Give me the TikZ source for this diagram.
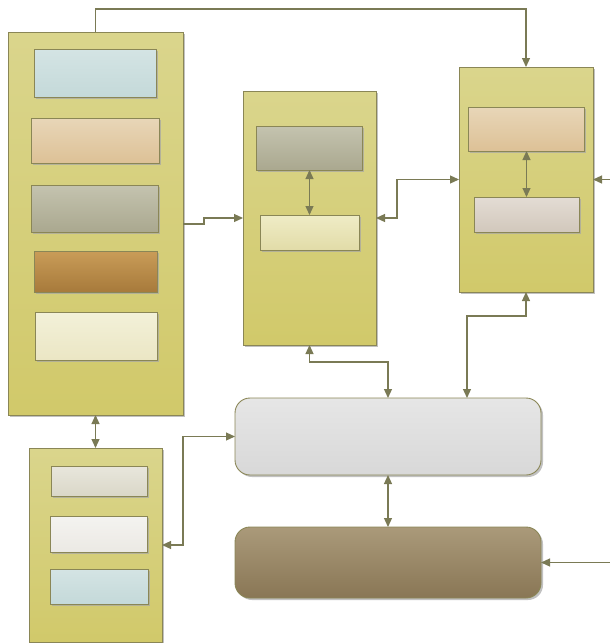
\documentclass[tikz,border=0pt]{standalone}
\usetikzlibrary{arrows.meta,shadows}
\definecolor{lineC}{HTML}{7A7A55}
\definecolor{edgeC}{HTML}{8A8656}
\tikzset{
  conn/.style={draw=lineC, line width=1.2pt},
  tip/.style={-{Triangle[length=9pt,width=8pt]}},
  dtip/.style={{Triangle[length=9pt,width=8pt]}-{Triangle[length=9pt,width=8pt]}},
  basebox/.style={draw=edgeC, line width=0.9pt, inner sep=0pt, outer sep=0pt, anchor=north west,
     drop shadow={shadow xshift=2pt, shadow yshift=-2pt, fill=black!35, opacity=0.7}},
  panel/.style={basebox, top color=DD1, bottom color=DD2},
  sub/.style 2 args={basebox, top color=#1, bottom color=#2},
  rbox/.style 2 args={basebox, rounded corners=15pt, top color=#1, bottom color=#2},
}
\definecolor{DD1}{HTML}{DAD58C}
\definecolor{DD2}{HTML}{D1C96A}
\definecolor{blueA}{HTML}{D4E4E4}\definecolor{blueB}{HTML}{C4D9D9}
\definecolor{peachA}{HTML}{E8D6B8}\definecolor{peachB}{HTML}{DDC196}
\definecolor{greyA}{HTML}{C4C3AF}\definecolor{greyB}{HTML}{AAA88F}
\definecolor{brownA}{HTML}{C99C58}\definecolor{brownB}{HTML}{A77A3B}
\definecolor{creamA}{HTML}{F3F1D9}\definecolor{creamB}{HTML}{EBE6C4}
\definecolor{lcreamA}{HTML}{EFECC6}\definecolor{lcreamB}{HTML}{E2DCA8}
\definecolor{b1A}{HTML}{E8E6DC}\definecolor{b1B}{HTML}{DAD7C8}
\definecolor{b2A}{HTML}{F4F3F0}\definecolor{b2B}{HTML}{EBE9E4}
\definecolor{pinkA}{HTML}{E3DCD4}\definecolor{pinkB}{HTML}{D2C8BC}
\definecolor{eA}{HTML}{E6E6E6}\definecolor{eB}{HTML}{D8D8D8}
\definecolor{fA}{HTML}{AA9A7A}\definecolor{fB}{HTML}{897655}
\begin{document}
\begin{tikzpicture}[x=1pt,y=-1pt]
\useasboundingbox (0,0) rectangle (610,643);
% panels
\node[panel, minimum width=175pt, minimum height=383pt] (A) at (8,32) {};
\node[panel, minimum width=133pt, minimum height=194pt] (B) at (29,448) {};
\node[panel, minimum width=133pt, minimum height=254pt] (C) at (243,91) {};
\node[panel, minimum width=134pt, minimum height=225pt] (D) at (459,67) {};
% A inner
\node[sub={blueA}{blueB}, minimum width=122pt, minimum height=48pt] (A1) at (34,49) {};
\node[sub={peachA}{peachB}, minimum width=128pt, minimum height=45pt] (A2) at (31,118) {};
\node[sub={greyA}{greyB}, minimum width=127pt, minimum height=47pt] (A3) at (31,185) {};
\node[sub={brownA}{brownB}, minimum width=123pt, minimum height=41pt] (A4) at (34,251) {};
\node[sub={creamA}{creamB}, minimum width=122pt, minimum height=48pt] (A5) at (35,312) {};
% B inner
\node[sub={b1A}{b1B}, minimum width=96pt, minimum height=30pt] (B1) at (51,466) {};
\node[sub={b2A}{b2B}, minimum width=97pt, minimum height=36pt] (B2) at (50,516) {};
\node[sub={blueA}{blueB}, minimum width=98pt, minimum height=35pt] (B3) at (50,569) {};
% C inner
\node[sub={greyA}{greyB}, minimum width=106pt, minimum height=44pt] (C1) at (256,126) {};
\node[sub={lcreamA}{lcreamB}, minimum width=99pt, minimum height=35pt] (C2) at (260,215) {};
% D inner
\node[sub={peachA}{peachB}, minimum width=116pt, minimum height=44pt] (D1) at (468,107) {};
\node[sub={pinkA}{pinkB}, minimum width=105pt, minimum height=35pt] (D2) at (474,197) {};
% rounded
\node[rbox={eA}{eB}, minimum width=306pt, minimum height=77pt] (E) at (235,398) {};
\node[rbox={fA}{fB}, minimum width=306pt, minimum height=71pt] (F) at (235,527) {};
% free ends
\coordinate (inD) at (610,179.5);
\coordinate (inF) at (610,562.5);
\coordinate (E2) at (467,398);
% connectors
\draw[conn,tip] (A.north) -- ++(0,-23) -| (D.north);
\draw[conn,tip] (A.east |- 0,224) -- (204,224) -- (204,218) -- (C.west);
\draw[conn,dtip] (C1.south -| C2.north) -- (C2.north);
\draw[conn,dtip] (C.east) -- (397,218) |- (D.west);
\draw[conn,dtip] (D1.south -| D2.north) -- (D2.north);
\draw[conn,tip] (inD) -- (D.east);
\draw[conn,dtip] (C.south) -- (309.5,362) -| (E.north);
\draw[conn,dtip] (D.south) -- (526,316) -| (E2);
\draw[conn,dtip] (A.south) -- (B.north);
\draw[conn,dtip] (B.east) -- (183,545) |- (E.west);
\draw[conn,dtip] (E.south) -- (F.north);
\draw[conn,tip] (inF) -- (F.east);
\end{tikzpicture}
\end{document}
